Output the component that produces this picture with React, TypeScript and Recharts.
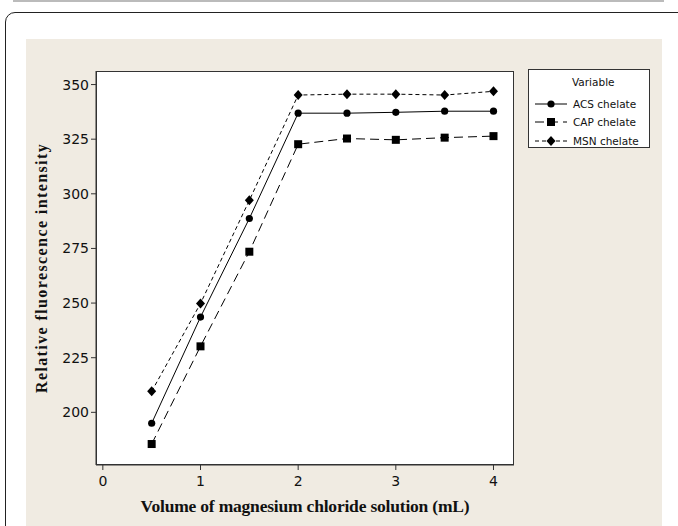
import React from "react";
import { LineChart, Line, XAxis, YAxis, Legend, Label } from "recharts";

const volume = [0.5, 1, 1.5, 2, 2.5, 3, 3.5, 4];
const acs = [195, 243.6, 288.7, 336.9, 336.9, 337.3, 337.8, 337.8];
const cap = [185.5, 230.2, 273.5, 322.7, 325.3, 324.7, 325.7, 326.4];
const msn = [209.6, 249.8, 297, 345.2, 345.6, 345.6, 345.2, 346.9];
const xTicks = [0, 1, 2, 3, 4];
const yTicks = [200, 225, 250, 275, 300, 325, 350];

const data = volume.map((v, i) => ({ v, acs: acs[i], cap: cap[i], msn: msn[i] }));

const series = [
  { key: "acs", name: "ACS chelate", dash: undefined, shape: "circle" },
  { key: "cap", name: "CAP chelate", dash: "9 5", shape: "square" },
  { key: "msn", name: "MSN chelate", dash: "4 3", shape: "diamond" },
];

const tickFont = { fontFamily: "DejaVu Sans", fontSize: 14, fill: "#111" };

function Marker({ cx, cy, shape }: { cx: number; cy: number; shape: string }) {
  if (cx == null || cy == null) return null;
  if (shape === "circle") return <circle cx={cx} cy={cy} r={3.6} fill="#000" />;
  if (shape === "square") return <rect x={cx - 4} y={cy - 4} width={8} height={8} fill="#000" />;
  return <polygon points={`${cx},${cy - 5} ${cx + 4.5},${cy} ${cx},${cy + 5} ${cx - 4.5},${cy}`} fill="#000" />;
}

function LegendBox() {
  return (
    <div
      style={{
        background: "#fff",
        border: "1px solid #333",
        width: 122,
        height: 79,
        boxSizing: "border-box",
        fontFamily: "DejaVu Sans",
        fontSize: 10.5,
        color: "#111",
      }}
    >
      <div style={{ paddingLeft: 43, paddingTop: 6, height: 19 }}>Variable</div>
      {series.map((s) => (
        <div key={s.key} style={{ display: "flex", alignItems: "center", height: 18.3 }}>
          <svg width={40} height={12} style={{ marginLeft: 4 }}>
            <line x1={2} y1={6} x2={34} y2={6} stroke="#000" strokeDasharray={s.dash} />
            <Marker cx={18} cy={6} shape={s.shape} />
          </svg>
          <span>{s.name}</span>
        </div>
      ))}
    </div>
  );
}

export default function App() {
  return (
    <div
      style={{
        position: "fixed",
        left: 0,
        top: 0,
        width: 678,
        height: 526,
        background: "#fff",
        overflow: "hidden",
      }}
    >
      <div style={{ position: "absolute", left: 13, top: 0, width: 651, height: 2, background: "#bbb" }} />
      <div
        style={{
          position: "absolute",
          left: 5,
          top: 12,
          width: 690,
          height: 540,
          border: "1.5px solid #222",
          borderRadius: 10,
        }}
      />
      <div style={{ position: "absolute", left: 26, top: 39, width: 636, height: 490, background: "#f0ebe2" }} />
      <div
        style={{
          position: "absolute",
          left: 96,
          top: 71,
          width: 418,
          height: 394,
          background: "#fff",
          border: "1px solid #333",
          boxSizing: "border-box",
        }}
      />
      <div style={{ position: "absolute", left: 0, top: 0 }}>
        <LineChart width={678} height={526} data={data} margin={{ top: 71, right: 164, left: 0, bottom: 0 }}>
          <XAxis
            dataKey="v"
            type="number"
            domain={[-0.07, 4.21]}
            ticks={xTicks}
            allowDataOverflow
            height={61}
            tickSize={5}
            tickMargin={6}
            stroke="#333"
            tick={tickFont}
          >
            <Label
              content={() => (
                <text
                  x={305}
                  y={512}
                  textAnchor="middle"
                  style={{ fontFamily: "Liberation Serif", fontWeight: "bold", fontSize: 17.5, letterSpacing: -0.2 }}
                  fill="#111"
                >
                  Volume of magnesium chloride solution (mL)
                </text>
              )}
            />
          </XAxis>
          <YAxis
            type="number"
            domain={[175.9, 356.2]}
            ticks={yTicks}
            allowDataOverflow
            width={96}
            tickSize={5}
            tickMargin={2}
            stroke="#333"
            tick={tickFont}
          >
            <Label
              content={() => (
                <text
                  x={47}
                  y={268}
                  textAnchor="middle"
                  transform="rotate(-90 47 268)"
                  style={{ fontFamily: "Liberation Serif", fontWeight: "bold", fontSize: 16, letterSpacing: 1.4 }}
                  fill="#111"
                >
                  Relative fluorescence intensity
                </text>
              )}
            />
          </YAxis>
          <Legend
            layout="vertical"
            align="center"
            verticalAlign="middle"
            wrapperStyle={{ left: 528, top: 69, width: 122, height: 79 }}
            content={() => <LegendBox />}
          />
          {series.map((s) => (
            <Line
              key={s.key}
              dataKey={s.key}
              name={s.name}
              stroke="#000"
              strokeWidth={1}
              strokeDasharray={s.dash}
              isAnimationActive={false}
              dot={(p: any) => <Marker key={`${s.key}-${p.index}`} cx={p.cx} cy={p.cy} shape={s.shape} />}
              activeDot={false}
            />
          ))}
        </LineChart>
      </div>
    </div>
  );
}
